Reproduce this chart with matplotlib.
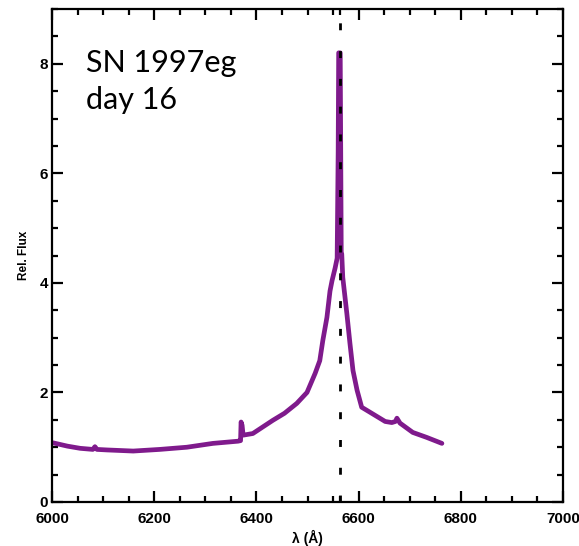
"Spectrum of SN 1997eg around H-alpha, day 16"

import numpy as np
import matplotlib
matplotlib.use('Agg')
import matplotlib.pyplot as plt
from matplotlib.ticker import MultipleLocator, FixedLocator

# values
wave = [6002, 6030, 6055, 6080, 6084, 6088, 6108, 6159, 6211, 6264, 6315,
        6364, 6369, 6370, 6372, 6374, 6393, 6432, 6455, 6479, 6499, 6515,
        6524, 6530, 6538, 6544, 6548, 6554, 6558, 6560, 6561, 6562, 6564,
        6565, 6566, 6567, 6569, 6577, 6583, 6589, 6597, 6606, 6622, 6652,
        6665, 6672, 6675, 6681, 6706, 6733, 6763]
flux = [1.08, 1.02, 0.98, 0.96, 1.01, 0.96, 0.95, 0.93, 0.96, 1.00, 1.07,
        1.11, 1.12, 1.46, 1.40, 1.22, 1.25, 1.49, 1.62, 1.80, 2.00, 2.35,
        2.58, 2.95, 3.37, 3.85, 4.04, 4.27, 4.45, 6.40, 8.20, 8.20, 8.20,
        6.40, 4.55, 4.53, 4.10, 3.44, 2.90, 2.40, 2.04, 1.73, 1.64, 1.47,
        1.45, 1.47, 1.53, 1.44, 1.27, 1.18, 1.07]
halpha = 6563
label_lines = ['SN 1997eg', 'day 16']

fig = plt.figure(figsize=(5.79, 5.46), dpi=100)
ax = fig.add_axes([0.0898, 0.0806, 0.8826, 0.9029])

ax.plot(wave, flux, color='#7f1a8c', lw=3.4, solid_joinstyle='round',
        solid_capstyle='round', zorder=2)
ax.axvline(halpha, ymax=0.975, color='black', lw=2.0,
           linestyle=(0, (2.5, 7.5)), zorder=3)

ax.set_xlim(6000, 7000)
ax.set_ylim(0, 9)
ax.xaxis.set_major_locator(MultipleLocator(200))
ax.xaxis.set_minor_locator(FixedLocator(list(np.arange(6050, 7000, 50)) + [halpha]))
ax.yaxis.set_major_locator(MultipleLocator(2))
ax.yaxis.set_minor_locator(MultipleLocator(0.5))

for s in ax.spines.values():
    s.set_linewidth(1.6)
ax.tick_params(which='both', direction='in', top=True, right=True, width=1.6)
ax.tick_params(which='major', length=8)
ax.tick_params(which='minor', length=4)
ax.tick_params(axis='x', pad=7)
ax.tick_params(axis='y', pad=3)
for lab in ax.get_xticklabels() + ax.get_yticklabels():
    lab.set_fontfamily('Liberation Sans')
    lab.set_fontweight('bold')
    lab.set_fontsize(11)

ax.set_xlabel('λ (Å)', fontfamily='Liberation Sans', fontweight='bold',
              fontsize=10, labelpad=3)
ax.set_ylabel('Rel. Flux', fontfamily='Liberation Sans', fontweight='bold',
              fontsize=8.5, labelpad=7)

# two lines of the label, baselines placed separately
for txt, yb in zip(label_lines, [0.872, 0.797]):
    ax.text(0.066, yb, txt, transform=ax.transAxes, ha='left',
            va='baseline', fontsize=22, fontfamily='Lato')

plt.savefig('out.png', dpi=100)
